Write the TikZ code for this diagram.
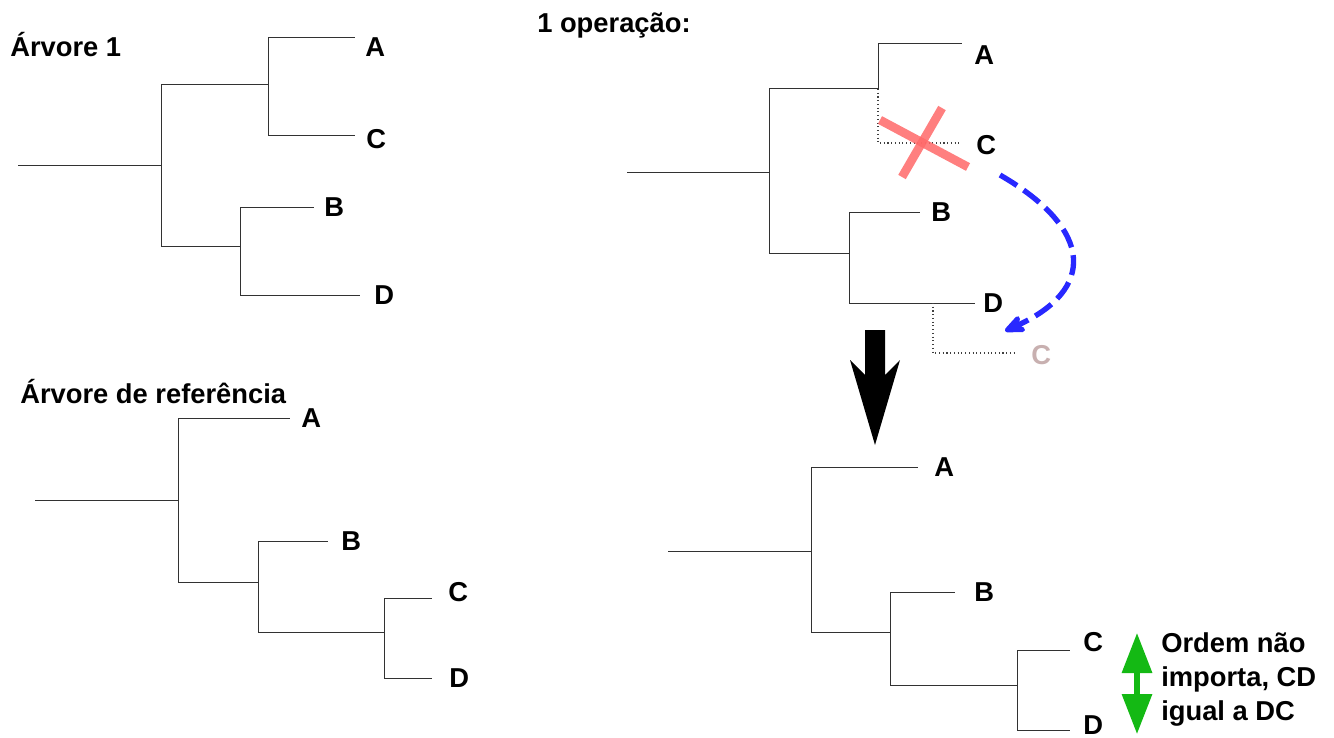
\documentclass[tikz,border=0pt]{standalone}
\usepackage{fontspec}
\setmainfont{Liberation Sans}
\usetikzlibrary{arrows.meta}
\definecolor{treegray}{RGB}{50,50,50}
\definecolor{xred}{RGB}{255,105,105}
\definecolor{ghostc}{RGB}{200,176,176}
\definecolor{movblue}{RGB}{40,40,255}
\definecolor{okgreen}{RGB}{20,185,20}
\tikzset{
  branch/.style={treegray,line width=0.75pt},
  moved/.style={black!75,dotted,line width=0.8pt},
  leaf/.style={font=\fontsize{20.5}{24}\selectfont\bfseries,inner sep=0pt,anchor=west},
  title/.style={font=\fontsize{20.5}{24}\selectfont\bfseries,inner sep=0pt,anchor=west}
}

\begin{document}
\begin{tikzpicture}[x=0.75pt,y=-0.75pt]
\useasboundingbox (0,0) rectangle (1334,738);

\node[title] (tit1) at (10,45) {Árvore 1};
\node[title] (titref) at (20,392) {Árvore de referência};
\node[title] (titop) at (537,25) {1 operação:};

% arvore 1
\coordinate (t1s) at (18,166);
\coordinate (t1r) at (161,166);
\coordinate (t1ac) at (268,85);
\coordinate (t1bd) at (240,246);
\coordinate (t1a) at (355,38);
\coordinate (t1c) at (355,136);
\coordinate (t1b) at (314,207);
\coordinate (t1d) at (360,295);
\node[leaf] (t1A) at (365,47) {A};
\node[leaf] (t1C) at (366,139) {C};
\node[leaf] (t1B) at (324,207) {B};
\node[leaf] (t1D) at (374,295) {D};
\draw[branch] (t1s) -- (t1r);
\draw[branch] (t1r) |- (t1ac);
\draw[branch] (t1r) |- (t1bd);
\draw[branch] (t1ac) |- (t1a);
\draw[branch] (t1ac) |- (t1c);
\draw[branch] (t1bd) |- (t1b);
\draw[branch] (t1bd) |- (t1d);

% arvore de referencia
\coordinate (rfs) at (35,500);
\coordinate (rfr) at (178,500);
\coordinate (rfbcd) at (258,582);
\coordinate (rfcd) at (384,632);
\coordinate (rfa) at (290,418);
\coordinate (rfb) at (328,541);
\coordinate (rfc) at (432,598);
\coordinate (rfd) at (432,678);
\node[leaf] (rfA) at (301,418) {A};
\node[leaf] (rfB) at (341,541) {B};
\node[leaf] (rfC) at (448,592) {C};
\node[leaf] (rfD) at (449,678) {D};
\draw[branch] (rfs) -- (rfr);
\draw[branch] (rfr) |- (rfa);
\draw[branch] (rfr) |- (rfbcd);
\draw[branch] (rfbcd) |- (rfb);
\draw[branch] (rfbcd) |- (rfcd);
\draw[branch] (rfcd) |- (rfc);
\draw[branch] (rfcd) |- (rfd);

% 1 operacao
\coordinate (ops) at (627,173);
\coordinate (opr) at (769,173);
\coordinate (opac) at (878,89);
\coordinate (opbd) at (849,253);
\coordinate (opdc) at (933,303);
\coordinate (opa) at (962,44);
\coordinate (opc) at (962,143);
\coordinate (opb) at (920,212);
\coordinate (opd) at (975,303);
\coordinate (opnc) at (1017,353);
\node[leaf] (opA) at (974,55) {A};
\node[leaf] (opC) at (976,145) {C};
\node[leaf] (opB) at (931,212) {B};
\node[leaf] (opD) at (983,303) {D};
\node[leaf,text=ghostc] (opNC) at (1031,355) {C};
\draw[branch] (ops) -- (opr);
\draw[branch] (opr) |- (opac);
\draw[branch] (opr) |- (opbd);
\draw[branch] (opac) |- (opa);
\draw[moved] (opac) |- (opc);
\draw[branch] (opbd) |- (opb);
\draw[branch] (opbd) |- (opd);
\draw[moved] (opdc) |- (opnc);

\draw[xred,opacity=0.85,line width=6.5pt] (880,120) -- (968,167);
\draw[xred,opacity=0.85,line width=6.5pt] (902,177) -- (942,108);

\coordinate (mvfrom) at (1000,175);
\coordinate (mvto) at (1005,331);
\draw[movblue,line width=4pt,dash pattern=on 15pt off 6pt,
  -{Stealth[length=20pt,width=17pt,inset=6pt,round]}]
  (mvfrom) .. controls (1095,230) and (1095,290) .. (mvto);

\fill (865,330) -- (885,330) -- (885,375) -- (900,360) -- (875,445)
  -- (850,360) -- (865,375) -- cycle;

% resultado
\coordinate (rss) at (668,551);
\coordinate (rsr) at (811,551);
\coordinate (rsbcd) at (890,632);
\coordinate (rscd) at (1017,685);
\coordinate (rsa) at (918,467);
\coordinate (rsb) at (955,592);
\coordinate (rsc) at (1070,650);
\coordinate (rsd) at (1070,730);
\node[leaf] (rsA) at (934,467) {A};
\node[leaf] (rsB) at (974,592) {B};
\node[leaf] (rsC) at (1083,642) {C};
\node[leaf] (rsD) at (1083,725) {D};
\draw[branch] (rss) -- (rsr);
\draw[branch] (rsr) |- (rsa);
\draw[branch] (rsr) |- (rsbcd);
\draw[branch] (rsbcd) |- (rsb);
\draw[branch] (rsbcd) |- (rscd);
\draw[branch] (rscd) |- (rsc);
\draw[branch] (rscd) |- (rsd);

\coordinate (ordtop) at (1137,633);
\coordinate (ordbot) at (1137,734);
\draw[okgreen,line width=4pt,{Triangle[length=30pt,width=22pt]}-{Triangle[length=30pt,width=22pt]}]
  (ordtop) -- (ordbot);
\node[title,align=left,font=\fontsize{20.5}{25.5}\selectfont\bfseries] (ordem) at (1161,679)
  {Ordem não\\importa, CD\\igual a DC};
\end{tikzpicture}
\end{document}
